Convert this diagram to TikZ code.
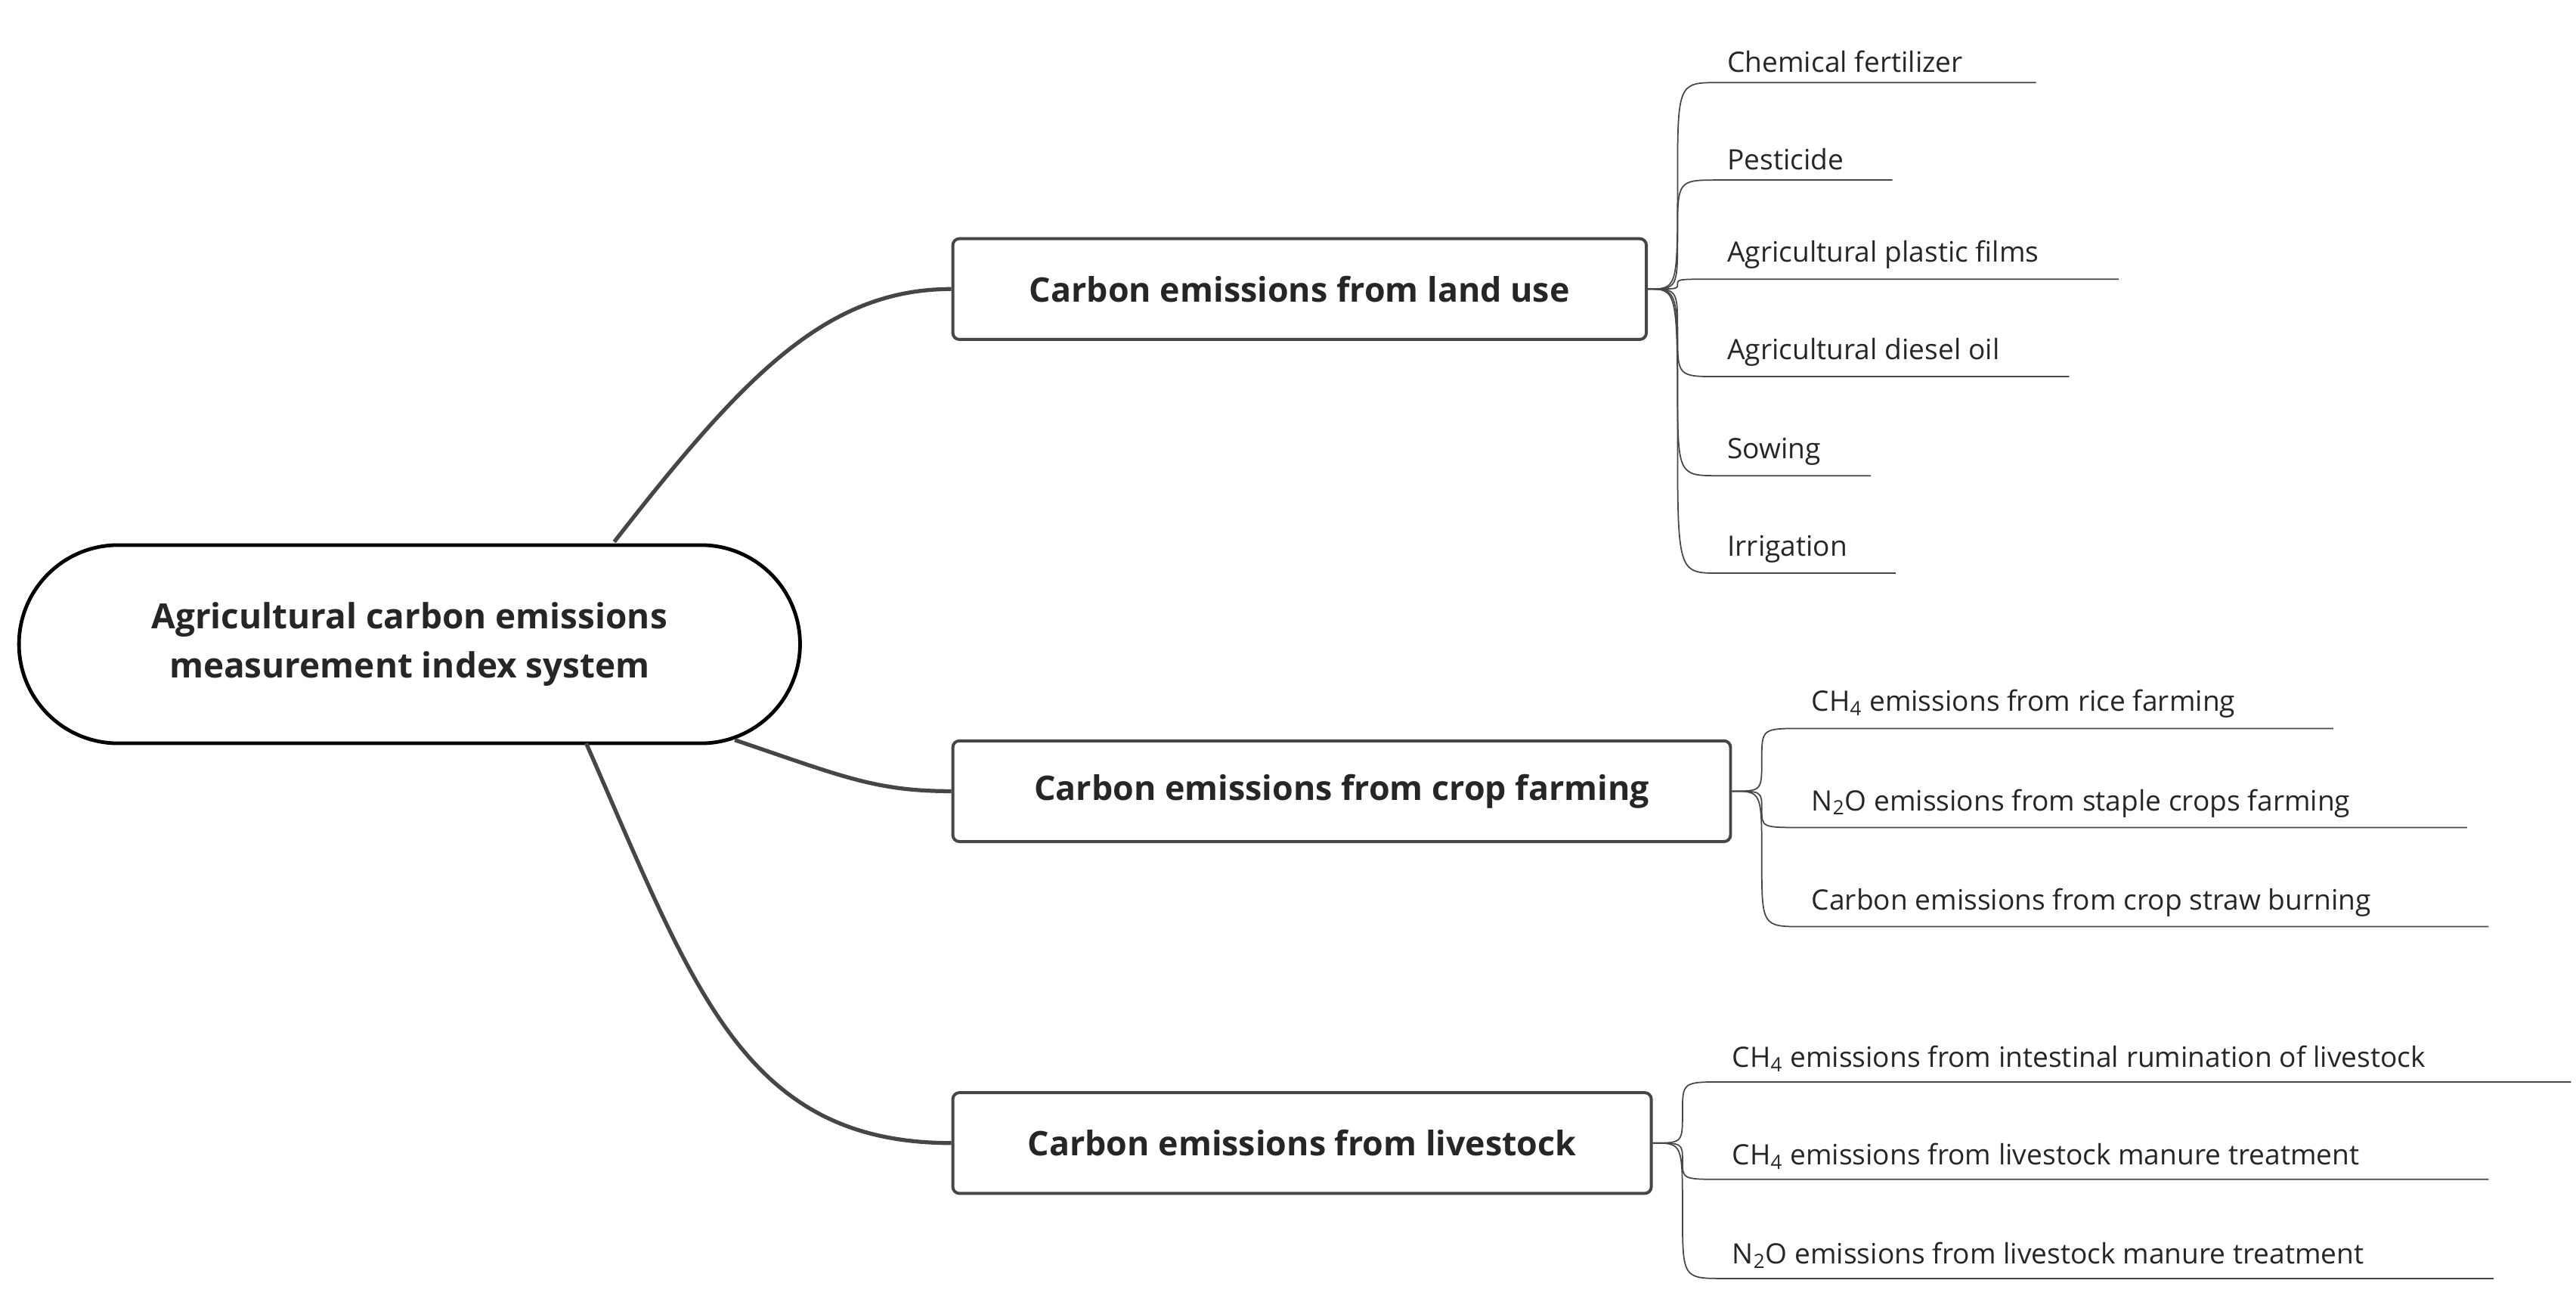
\documentclass[tikz,border=0pt]{standalone}
\usepackage{fontspec}
\setmainfont{Open Sans}
\usetikzlibrary{calc}
\definecolor{linegray}{RGB}{70,70,70}

\begin{document}
\begin{tikzpicture}[x=1pt, y=1pt]
    \tikzstyle{every node} = [font=\fontsize{17}{20}\selectfont, text=black!85]
    \tikzstyle{root} = [draw=black, line width=2.2pt, rounded corners=60pt, minimum width=473pt, minimum height=120pt, align=center, font=\fontsize{21}{30}\selectfont\bfseries]
    \tikzstyle{branch} = [draw=linegray, line width=1.8pt, rounded corners=4pt, minimum height=61pt, font=\fontsize{20.5}{24}\selectfont\bfseries]
    \tikzstyle{leaf} = [anchor=south west, inner sep=3pt]
    \tikzstyle{link} = [draw=linegray, line width=2.4pt]
    \tikzstyle{twig} = [draw=linegray, line width=0.8pt]
    \useasboundingbox (0,0) rectangle (1560,788);

    % main nodes
    \node (root) [root] at (248,398) {Agricultural carbon emissions\\measurement index system};
    \node (land) [branch, minimum width=420pt] at (787,613) {Carbon emissions from land use};
    \node (crop) [branch, minimum width=471pt] at (812.5,309) {Carbon emissions from crop farming};
    \node (live) [branch, minimum width=423pt] at (788.5,96) {Carbon emissions from livestock};

    \draw [link] (372,460) .. controls (450,560) and (500,613) .. (land.west);
    \draw [link] (445,340) .. controls (510,318) and (530,309) .. (crop.west);
    \draw [link] (355,338) .. controls (420,190) and (450,96) .. (live.west);

    % leaves: name/parent/line y/end x/text
    \foreach \name/\parent/\ly/\ex/\txt in {
        l1/land/738/1233/Chemical fertilizer,
        l2/land/679/1146/Pesticide,
        l3/land/619/1283/Agricultural plastic films,
        l4/land/560/1253/Agricultural diesel oil,
        l5/land/500/1133/Sowing,
        l6/land/441/1148/Irrigation,
        c1/crop/347/1413/CH\textsubscript{4} emissions from rice farming,
        c2/crop/287/1494/N\textsubscript{2}O emissions from staple crops farming,
        c3/crop/227/1507/Carbon emissions from crop straw burning,
        v1/live/133/1557/CH\textsubscript{4} emissions from intestinal rumination of livestock,
        v2/live/74/1507/CH\textsubscript{4} emissions from livestock manure treatment,
        v3/live/14/1510/N\textsubscript{2}O emissions from livestock manure treatment}
    {
        \path let \p1 = (\parent.east) in coordinate (\name-start) at (\x1+18,\ly);
        \node (\name) [leaf] at ($(\name-start)+(27,3)$) {\txt};
        \coordinate (\name-end) at (\ex,\ly);
        \draw [twig] let \p1 = (\parent.east), \p2 = (\name-start) in
            (\parent.east) .. controls (\x2,\y1) and (\x2,\y1) .. (\x2,{\y1+(\y2-\y1)*0.5})
            .. controls (\x2,\y2) and (\x2,\y2) .. ($(\name-start)+(25,0)$) -- (\name-end);
    }
\end{tikzpicture}
\end{document}
